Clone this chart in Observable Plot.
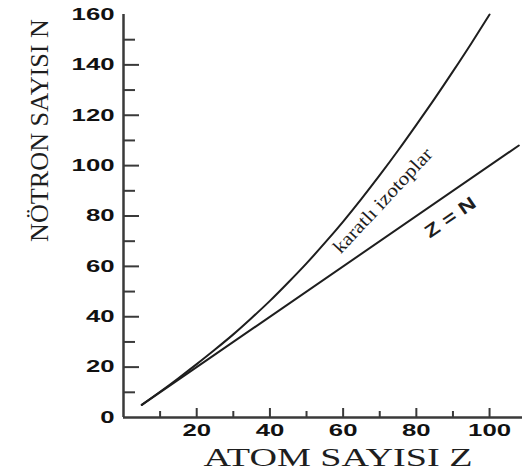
<!DOCTYPE html>
<html><head><meta charset="utf-8">
<script src="https://cdn.jsdelivr.net/npm/d3@7"></script>
<script src="https://cdn.jsdelivr.net/npm/@observablehq/plot@0.6"></script>
<style>html,body{margin:0;padding:0;background:#fff;overflow:hidden}</style>
</head><body><div id="chart"></div>
<script>
// Data
const atomNumbers    = [5, 10, 15, 20, 25, 30, 35, 40, 45, 50, 55, 60, 65, 70, 75, 80, 85, 90, 95, 100];
const stableNeutrons = [5, 10.2, 15.6, 21.2, 27, 33, 39.5, 46.3, 53.6, 61.2, 69.3, 77.8, 86.8, 96.2, 106, 116.2, 126.6, 137.4, 148.5, 160];
const equalLineZ     = [5, 108];
const yLabelTicks = [0, 20, 40, 60, 80, 100, 120, 140, 160];
const yMajorTicks = [20, 40, 60, 80, 100, 120, 140];
const yMinorTicks = [10, 30, 50, 70, 90, 110, 130, 150];
const xMajorTicks = [20, 40, 60, 80, 100];
const xMinorTicks = [10, 30, 50, 70, 90];
const curveLabel = [{text: "karatlı izotoplar", z: 70.8, n: 86.1}];
const lineLabel  = [{text: "Z = N", z: 89.3, n: 79.4}];
const xTitle = "ATOM SAYISI Z";
const yTitle = "NÖTRON SAYISI N";

const stable = atomNumbers.map((z, i) => ({z, n: stableNeutrons[i]}));
const equal = equalLineZ.map(z => ({z, n: z}));
const ink = "#1e1e1e";
const axisInk = "#3a3a3a";
const tickFont = {fontSize: 16.5, fontWeight: "bold", fontFamily: "Liberation Sans", fill: "#111"};

const chart = Plot.plot({
  width: 523, height: 472,
  marginLeft: 123, marginRight: 1, marginTop: 14, marginBottom: 55,
  x: {domain: [0, 109], axis: null, label: null},
  y: {domain: [0, 160], axis: null, label: null},
  style: {background: "#fff", overflow: "visible"},
  marks: [
    // inward ticks on the left axis
    Plot.ruleY(yMajorTicks, {y: d => d, x1: 0, x2: 0, insetRight: -16, stroke: axisInk, strokeWidth: 2}),
    Plot.ruleY(yMinorTicks, {y: d => d, x1: 0, x2: 0, insetRight: -12, stroke: axisInk, strokeWidth: 2}),
    // inward ticks on the bottom axis
    Plot.ruleX(xMajorTicks, {x: d => d, y1: 0, y2: 0, insetTop: -9, stroke: axisInk, strokeWidth: 2}),
    Plot.ruleX(xMinorTicks, {x: d => d, y1: 0, y2: 0, insetTop: -6, stroke: axisInk, strokeWidth: 2}),
    // tick labels
    Plot.text(yLabelTicks, {y: d => d, text: d => String(d), frameAnchor: "left", dx: -9,
      textAnchor: "end", ...tickFont}),
    Plot.text(xMajorTicks, {x: d => d, text: d => String(d), frameAnchor: "bottom", dy: 7,
      lineAnchor: "top", ...tickFont}),
    // axis lines
    Plot.ruleX([0], {stroke: axisInk, strokeWidth: 2.5}),
    Plot.ruleY([0], {stroke: axisInk, strokeWidth: 2.5}),
    // data
    Plot.line(equal, {x: "z", y: "n", stroke: ink, strokeWidth: 2}),
    Plot.line(stable, {x: "z", y: "n", curve: "natural", stroke: ink, strokeWidth: 2}),
    Plot.text(curveLabel, {x: "z", y: "n", text: "text", rotate: -47, fontSize: 19,
      fontFamily: "Liberation Serif", fill: ink}),
    Plot.text(lineLabel, {x: "z", y: "n", text: "text", rotate: -34.5, fontSize: 18,
      fontWeight: "bold", fontFamily: "Liberation Sans", fill: ink}),
    // axis titles
    Plot.text([yTitle], {frameAnchor: "left", rotate: -90, dx: -76, dy: 26, lineAnchor: "bottom",
      fontSize: 26, fontFamily: "Liberation Serif", fill: ink}),
    Plot.text([xTitle], {frameAnchor: "bottom", dx: 15, dy: 48, lineAnchor: "bottom",
      fontSize: 26, fontFamily: "Liberation Serif", fill: ink})
  ]
});
document.getElementById("chart").appendChild(chart);

// Stretch text widths to match the reference's proportions
const fixedLengths = new Map([
  [xTitle, 269], [yTitle, 223],
  [curveLabel[0].text, 136], [lineLabel[0].text, 58]
]);
chart.querySelectorAll("text").forEach(el => {
  const t = el.textContent.trim();
  let len = null;
  if (fixedLengths.has(t)) len = fixedLengths.get(t);
  else if (/^\d+$/.test(t)) len = t.length * 14.3;
  if (len != null) {
    el.setAttribute("textLength", len);
    el.setAttribute("lengthAdjust", "spacingAndGlyphs");
  }
});
</script>
</body></html>
